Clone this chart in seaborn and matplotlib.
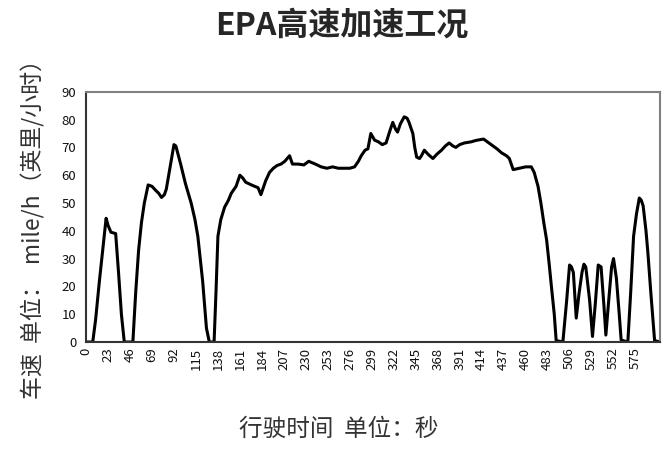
import pandas as pd
import seaborn as sns
import matplotlib.pyplot as plt

# EPA high-speed acceleration cycle
time_s = [0, 7, 10, 14, 18, 21, 23, 26, 31, 34, 37, 40, 49, 52, 55, 58, 61, 65, 69, 73,
          76, 79, 82, 84, 88, 92, 94, 99, 104, 110, 114, 117, 122, 126, 129, 134, 136, 138, 141, 145,
          149, 152, 157, 161, 164, 167, 173, 180, 183, 186, 188, 192, 196, 200, 204, 208, 213, 216, 222, 228,
          233, 240, 246, 252, 258, 264, 270, 276, 281, 285, 288, 292, 295, 298, 302, 306, 310, 314, 318, 321,
          324, 326, 329, 333, 336, 338, 342, 344, 346, 349, 351, 354, 358, 363, 367, 372, 376, 380, 384, 387,
          391, 396, 403, 408, 413, 416, 420, 424, 430, 435, 440, 443, 447, 451, 455, 460, 466, 469, 473, 476,
          479, 482, 485, 487, 490, 492, 499, 503, 506, 508, 510, 513, 516, 519, 521, 523, 527, 530, 533, 536,
          539, 542, 544, 547, 550, 552, 555, 558, 560, 567, 570, 573, 576, 579, 581, 583, 586, 588, 591, 595,
          601]
speed_mph = [0, 0, 8, 22, 35, 44.5, 42, 39.5, 39, 25, 10, 0, 0, 18, 33, 43, 50, 56.5, 56, 54.5,
             53.5, 52, 53, 55, 63, 71, 70.5, 64, 57, 50, 44, 38, 22, 5, 0, 0, 18, 38, 44, 48.5,
             51, 53.5, 56, 60, 59, 57.5, 56.5, 55.5, 53, 56, 58, 61, 62.5, 63.5, 64, 65, 67, 64, 64, 63.7,
             65, 64, 63, 62.5, 63, 62.5, 62.5, 62.5, 63, 65, 67, 69, 69.5, 75, 72.6, 72, 71, 71.6, 76, 79,
             76.5, 75.5, 78.5, 81, 80.5, 79, 75, 70, 66.5, 66, 67, 69, 67.5, 66, 67.5, 69, 70.5, 71.6, 70.5, 70,
             71, 71.6, 72, 72.5, 72.8, 73, 72, 71, 69.5, 68, 67, 66, 62, 62.3, 62.6, 63, 63, 61, 56, 50,
             43, 36.7, 27, 20, 10, 0.5, 0, 15, 27.7, 27, 25, 8.6, 17.6, 25, 28, 27, 15, 2, 14, 27.7,
             27, 13, 2.5, 15, 27, 30, 23, 10, 0.7, 0, 18, 38, 46, 51.8, 51, 49, 40, 32, 18, 0.5,
             0]
x_ticks = list(range(0, 576, 23))
y_ticks = list(range(0, 91, 10))

df = pd.DataFrame({'time': time_s, 'speed': speed_mph})

sns.set_theme(style="white")
plt.rcParams['font.family'] = ['Noto Sans CJK SC', 'DejaVu Sans']

fig = plt.figure(figsize=(6.67, 4.5), dpi=100)
ax = fig.add_axes([0.129, 0.24, 0.861, 0.556])
sns.lineplot(data=df, x='time', y='speed', color='black', linewidth=2.2, ax=ax)

ax.set_xlim(0, 601)
ax.set_ylim(0, 90)
ax.set_xticks(x_ticks)
ax.set_xticklabels([str(t) for t in x_ticks], rotation=90, fontsize=9.5, color='#111111')
ax.set_yticks(y_ticks)
ax.set_yticklabels([str(v) for v in y_ticks], fontsize=9.5, color='#111111')
ax.tick_params(axis='y', direction='inout', length=6, width=1, color='#333333', pad=4)
ax.tick_params(axis='x', direction='out', length=0, pad=4)
for sp in ax.spines.values():
    sp.set_color('#808080')
    sp.set_linewidth(1.5)
ax.spines['left'].set_color('#333333')
ax.spines['bottom'].set_color('#333333')

ax.set_xlabel('行驶时间  单位：秒', fontsize=17, color='#333333')
ax.xaxis.set_label_coords(0.44, -0.35)
ax.xaxis.label.set_va('center')
ax.set_ylabel('车速  单位：  mile/h（英里/小时）', fontsize=16.5, color='#333333')
ax.yaxis.set_label_coords(-0.092, 0.475)
ax.yaxis.label.set_va('center')

fig.text(0.513, 0.944, 'EPA高速加速工况', fontsize=23, fontweight='bold', ha='center', va='center')

plt.savefig('out.png', dpi=100)
